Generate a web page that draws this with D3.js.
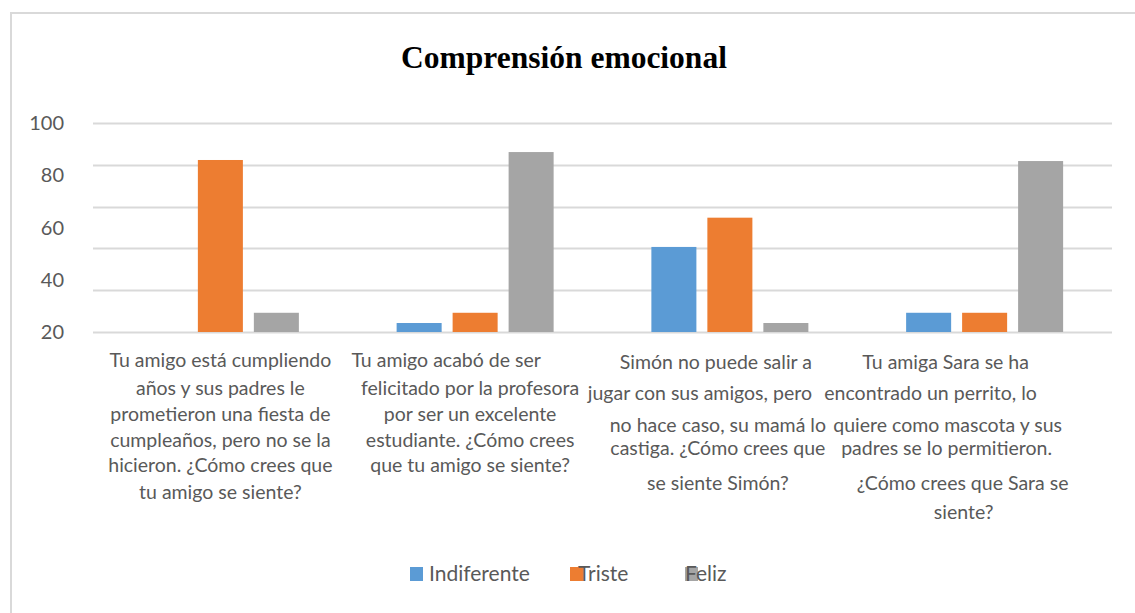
<!DOCTYPE html>
<html>
<head>
<meta charset="utf-8">
<script src="https://cdn.jsdelivr.net/npm/d3@7"></script>
<style>
  body { margin: 0; background: #fff; }
  svg { display: block; }
</style>
</head>
<body>
<div id="chart"></div>
<script>
'use strict';

// data (percent)
var title = 'Comprensión emocional';
var seriesNames = ['Indiferente', 'Triste', 'Feliz'];
var seriesColors = ['#5b9bd5', '#ed7d31', '#a5a5a5'];
var indiferente = [0, 4.3, 40.7, 9.2];
var triste = [82.3, 9.2, 54.7, 9.2];
var feliz = [9.2, 86.1, 4.3, 81.8];
var tickLabels = ['100', '80', '60', '40', '20'];
var categories = [
  ['Tu amigo está cumpliendo', 'años y sus padres le', 'prometieron una fiesta de', 'cumpleaños, pero no se la', 'hicieron. ¿Cómo crees que', 'tu amigo se siente?'],
  ['Tu amigo acabó de ser', 'felicitado por la profesora', 'por ser un excelente', 'estudiante. ¿Cómo crees', 'que tu amigo se siente?'],
  ['Simón no puede salir a', 'jugar con sus amigos, pero', 'no hace caso, su mamá lo', 'castiga. ¿Cómo crees que', 'se siente Simón?'],
  ['Tu amiga Sara se ha', 'encontrado un perrito, lo', 'quiere como mascota y sus', 'padres se lo permitieron.', '¿Cómo crees que Sara se', 'siente?']
];

var width = 1135, height = 613;
var plot = { left: 93, right: 1112, top: 123, bottom: 332 };
var textFont = 'Lato, "Open Sans", sans-serif';

var svg = d3.select('#chart').append('svg')
  .attr('width', width)
  .attr('height', height);

// chart frame (only top and left edges show in the picture)
svg.append('path')
  .attr('d', 'M11,' + height + 'V13H' + width)
  .attr('fill', 'none')
  .attr('stroke', '#d9d9d9')
  .attr('stroke-width', 2);

svg.append('text')
  .attr('x', 564)
  .attr('y', 68)
  .attr('text-anchor', 'middle')
  .style('font-family', '"Liberation Serif", "Times New Roman", serif')
  .style('font-weight', 'bold')
  .style('font-size', '31.5px')
  .attr('fill', '#000')
  .text(title);

var y = d3.scaleLinear().domain([0, 100]).range([plot.bottom, plot.top]);
var x0 = d3.scaleBand().domain(d3.range(categories.length)).range([plot.left, plot.right]);
var x1 = d3.scaleBand().domain(seriesNames).range([0, 157]).paddingInner(0.196);

// gridlines
svg.append('g').selectAll('line')
  .data(y.ticks(5))
  .enter().append('line')
  .attr('x1', plot.left)
  .attr('x2', plot.right)
  .attr('y1', function(d) { return Math.round(y(d)) + 0.5; })
  .attr('y2', function(d) { return Math.round(y(d)) + 0.5; })
  .attr('stroke', '#d9d9d9')
  .attr('stroke-width', 2);

// tick labels sit evenly over the plot height, as in the reference
var yLab = d3.scalePoint().domain(tickLabels).range([plot.top, plot.bottom]);
svg.append('g').selectAll('text')
  .data(tickLabels)
  .enter().append('text')
  .attr('x', 64)
  .attr('y', function(d) { return yLab(d); })
  .attr('dy', '0.35em')
  .attr('text-anchor', 'end')
  .style('font-family', textFont)
  .style('font-size', '20px')
  .attr('fill', '#595959')
  .text(function(d) { return d; });

var rows = categories.map(function(c, i) {
  return { i: i, values: [indiferente[i], triste[i], feliz[i]] };
});

var groups = svg.append('g').selectAll('g')
  .data(rows)
  .enter().append('g')
  .attr('transform', function(d) {
    return 'translate(' + (x0(d.i) + x0.bandwidth() / 2 - 78.5) + ',0)';
  });

groups.selectAll('rect')
  .data(function(d) {
    return d.values.map(function(v, k) { return { name: seriesNames[k], value: v, k: k }; });
  })
  .enter().append('rect')
  .filter(function(d) { return d.value > 0; })
  .attr('x', function(d) { return x1(d.name); })
  .attr('width', x1.bandwidth())
  .attr('y', function(d) { return y(d.value); })
  .attr('height', function(d) { return y(0) - y(d.value); })
  .attr('fill', function(d) { return seriesColors[d.k]; });

// category labels (hand-wrapped, lines a bit off-centre in the original)
var labelShift = [
  [0, 0, 0, 0, 0, 0],
  [-29, -5, -5, -5, -5],
  [-14, -30, -12, -12, -12],
  [-39, -54, -37, -38, -22, -21]
];
var labelY = [
  [360, 388, 414, 440, 465, 492],
  [360, 388, 414, 440, 465],
  [362, 393, 425, 448, 483],
  [362, 393, 425, 448, 483, 512]
];
categories.forEach(function(lines, i) {
  var t = svg.append('text')
    .attr('text-anchor', 'middle')
    .style('font-family', textFont)
    .style('font-size', '19.5px')
    .attr('fill', '#595959');
  lines.forEach(function(line, j) {
    t.append('tspan')
      .attr('x', x0(i) + x0.bandwidth() / 2 + labelShift[i][j])
      .attr('y', labelY[i][j])
      .attr('dy', '0.35em')
      .text(line);
  });
});

// legend
var legendX = [410, 570, 685];
var legendTextX = [429, 578, 685];
var legend = svg.append('g').selectAll('g')
  .data(seriesNames)
  .enter().append('g');
legend.append('rect')
  .attr('x', function(d, i) { return legendX[i]; })
  .attr('y', 567)
  .attr('width', 13)
  .attr('height', 14)
  .attr('fill', function(d, i) { return seriesColors[i]; });
legend.append('text')
  .attr('x', function(d, i) { return legendTextX[i]; })
  .attr('y', 574)
  .attr('dy', '0.35em')
  .style('font-family', textFont)
  .style('font-size', '21px')
  .attr('fill', '#595959')
  .text(function(d) { return d; });
</script>
</body>
</html>
